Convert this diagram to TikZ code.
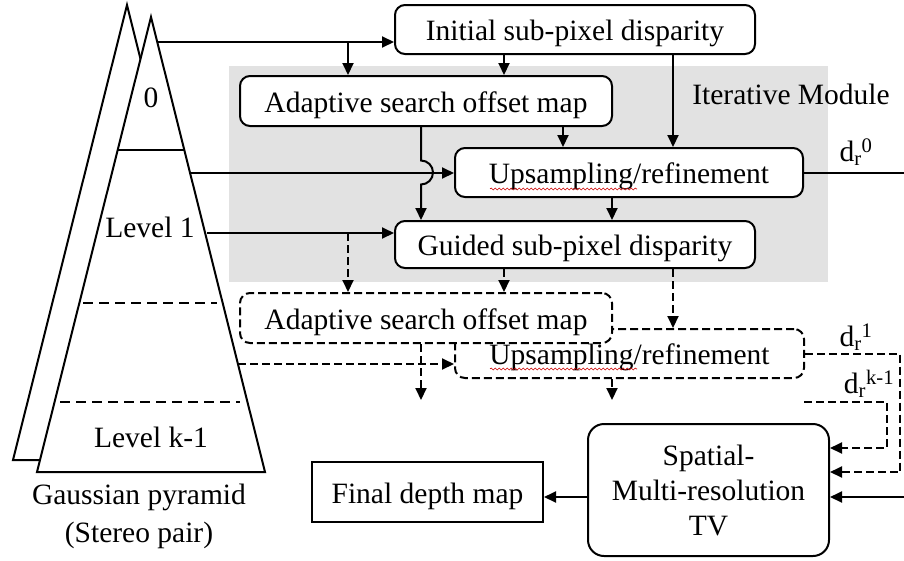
\documentclass[tikz,border=0pt]{standalone}
\usepackage{fontspec}
\setmainfont{Liberation Serif}
\usetikzlibrary{arrows.meta,decorations.pathmorphing}
\definecolor{bggray}{RGB}{226,226,226}
\begin{document}
\begin{tikzpicture}[x=1pt,y=-1pt, line width=2pt,
  font=\fontsize{29.5}{35}\selectfont,
  box/.style={draw, rounded corners=10pt, fill=white, inner sep=0pt, text height=22pt, text depth=0pt},
  arr/.style={-{Triangle[length=12pt,width=11pt]}},
  dsh/.style={dash pattern=on 8pt off 4pt},
  pdsh/.style={dash pattern=on 10pt off 6pt},
  lbl/.style={inner sep=0pt},
  squig/.style={draw=red!80!black, line width=0.6pt, decorate, decoration={snake, segment length=4pt, amplitude=1pt}}]
\useasboundingbox (0,0) rectangle (904,560);

% iterative module background
\fill[bggray] (229,66) rectangle (828,282);

% Gaussian pyramids
\draw[fill=white, line join=miter] (127,5) -- (13,460) -- (241,460) -- cycle;
\draw[fill=white, line join=miter] (151,17) -- (37,472) -- (265,472) -- cycle;
\draw (117.7,150) -- (184.3,150);
\draw[pdsh] (83,303) -- (217,303);
\draw[pdsh] (60,402) -- (240,402);
\node[lbl] (l0) at (151,98) {0};
\node[lbl] (l1) at (150,227) {Level 1};
\node[lbl] (lk) at (151,437) {Level k-1};
\node[lbl, align=center, font=\fontsize{29.5}{38}\selectfont] (gp) at (139,516) {Gaussian pyramid\\(Stereo pair)};

% boxes
\node[box, minimum width=360pt, minimum height=49pt] (init) at (575,29.5) {Initial sub-pixel disparity};
\node[box, minimum width=372pt, minimum height=50pt] (ad0) at (426,101) {Adaptive search offset map};
\node[box, minimum width=348pt, minimum height=49pt] (up0) at (629,172.5) {Upsampling/refinement};
\node[box, minimum width=360pt, minimum height=47pt] (gd) at (575,244.5) {Guided sub-pixel disparity};
\node[lbl] (itm) at (791,94) {Iterative Module};
\node[box, dsh, minimum width=349pt, minimum height=49pt] (up1) at (629.5,353.5) {Upsampling/refinement};
\node[box, dsh, minimum width=372pt, minimum height=50pt] (ad1) at (426,318) {Adaptive search offset map};
\node[draw, rounded corners=16pt, fill=white, inner sep=0pt, minimum width=241pt, minimum height=132pt, align=center] (tv) at (708.5,490) {Spatial-\\Multi-resolution\\TV};
\node[draw, fill=white, inner sep=0pt, minimum width=231pt, minimum height=60pt, text height=22pt, text depth=0pt] (fin) at (427.5,492) {Final depth map};

% spell-check squiggles
\draw[squig] (490,189) -- (637,189);
\draw[squig] (490,369) -- (637,369);

% labels
\node[lbl] (d0) at (856,152) {d\textsubscript{r}\textsuperscript{0}};
\node[lbl] (d1) at (856,337) {d\textsubscript{r}\textsuperscript{1}};
\node[lbl] (dk) at (869,384) {d\textsubscript{r}\textsuperscript{k-1}};

% helper coordinates
\coordinate (cA) at (348,0);
\coordinate (cB) at (421,0);
\coordinate (cC) at (504,0);
\coordinate (cD) at (563,0);
\coordinate (cE) at (612,0);
\coordinate (cF) at (673,0);
\coordinate (p0) at (157,42);
\coordinate (p1) at (190,173);
\coordinate (p2) at (207,233);
\coordinate (p3) at (238,364);
\coordinate (out0) at (904,172.5);
\coordinate (e1) at (421,400);
\coordinate (e2) at (612,400);
\coordinate (r1) at (900,472);
\coordinate (k0) at (804,402);
\coordinate (k1) at (887,448);
\coordinate (in0) at (904,497);
\coordinate (hop) at (421,160.5);

% solid connectors
\draw[arr] (p0) -- (p0 -| init.west);
\draw[arr] (cA |- p0) -- (ad0.north -| cA);
\draw[arr] (init.south -| cC) -- (ad0.north -| cC);
\draw[arr] (init.south -| cF) -- (up0.north -| cF);
\draw[arr] (ad0.south -| cD) -- (up0.north -| cD);
\draw[arr] (ad0.south -| cB) -- (hop) arc[start angle=90, end angle=-90, radius=12pt] -- (gd.north -| cB);
\draw[arr] (p1) -- (p1 -| up0.west);
\draw[arr] (p2) -- (p2 -| gd.west);
\draw[arr] (up0.south -| cE) -- (gd.north -| cE);
\draw (up0.east) -- (out0);

% dashed connectors
\draw[arr, dsh] (cA |- p2) -- (ad1.north -| cA);
\draw[arr, dsh] (gd.south -| cC) -- (ad1.north -| cC);
\draw[arr, dsh] (gd.south -| cF) -- (up1.north -| cF);
\draw[arr, dsh] (ad1.south -| cB) -- (e1);
\draw[arr, dsh] (p3) -- (p3 -| up1.west);
\draw[arr, dsh] (up1.south -| cE) -- (e2);
\draw[arr, dsh] (up1.east) -| (r1) -- (r1 -| tv.east);
\draw[arr, dsh] (k0) -| (k1) -- (k1 -| tv.east);

% final connectors
\draw[arr] (in0) -- (in0 -| tv.east);
\draw[arr] (in0 -| tv.west) -- (in0 -| fin.east);
\end{tikzpicture}
\end{document}
